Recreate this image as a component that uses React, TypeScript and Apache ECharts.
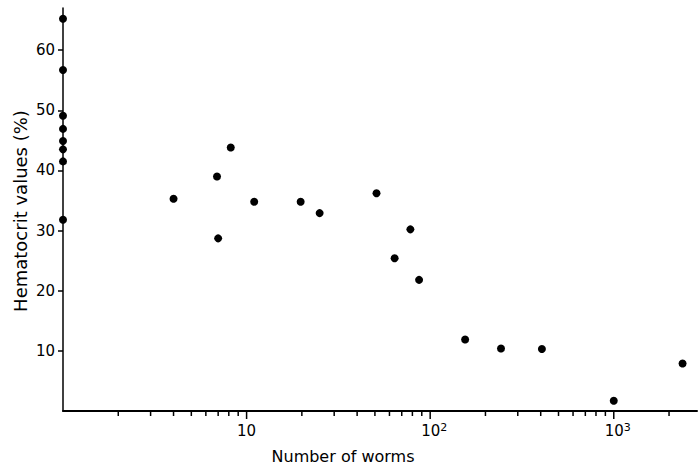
import React, { useEffect, useRef } from "react";
import * as echarts from "echarts";

// Worms on the left axis (x = 1, i.e. no worms counted)
const axisWormCounts = [1, 1, 1, 1, 1, 1, 1, 1];
const axisHematocrit = [65.2, 56.7, 49.1, 46.9, 44.9, 43.5, 41.5, 31.8];

// Infected animals
const wormCounts = [4, 6.9, 7, 8.2, 11, 19.7, 25, 51, 64, 78, 87, 155, 243, 406, 1000, 2370];
const hematocrit = [35.3, 39.0, 28.7, 43.8, 34.8, 34.8, 32.9, 36.2, 25.4, 30.2, 21.8, 11.9, 10.4, 10.3, 1.7, 7.9];

// Axis tick values
const xMajorTicks = [10, 100, 1000];
const xMinorTicks = [2, 3, 4, 5, 6, 7, 8, 9, 20, 30, 40, 50, 60, 70, 80, 90, 200, 300, 400, 500, 600, 700, 800, 900, 2000];
const yTicks = [10, 20, 30, 40, 50, 60];

const FONT = "DejaVu Sans";

export default function App() {
  const ref = useRef<HTMLDivElement>(null);
  useEffect(() => {
    if (!ref.current) return;
    const chart = echarts.init(ref.current, null, { renderer: "svg" });

    const points = [
      ...axisWormCounts.map((x, i) => [x, axisHematocrit[i]]),
      ...wormCounts.map((x, i) => [x, hematocrit[i]]),
    ];

    const tickSeries = (vals: number[], len: number) => ({
      type: "custom",
      clip: false,
      silent: true,
      z: 5,
      data: vals.map((v) => [v, 0]),
      renderItem: (_params: any, api: any) => {
        const p = api.coord([api.value(0), 0]);
        return {
          type: "line",
          shape: { x1: p[0], y1: p[1], x2: p[0], y2: p[1] + len },
          style: { stroke: "#000", lineWidth: 1.5, opacity: 1 },
        };
      },
    });

    const supMap: Record<number, string> = {
      10: "{b|10}",
      100: "{bp|10}{s|2}",
      1000: "{bp|10}{s|3}",
    };

    chart.setOption({
      animation: false,
      backgroundColor: "#fff",
      grid: { left: 63, right: 0, top: 8, bottom: 60, containLabel: false },
      xAxis: {
        type: "log",
        logBase: 10,
        min: 1,
        max: 2840,
        axisLine: { show: true, lineStyle: { color: "#000", width: 2 } },
        axisTick: { show: false },
        splitLine: { show: false },
        minorTick: { show: false },
        axisLabel: {
          margin: 11,
          color: "#000",
          formatter: (v: number) => {
            const r = Math.round(v);
            return xMajorTicks.includes(r) ? supMap[r] : "";
          },
          rich: {
            b: { fontSize: 15, fontFamily: FONT, color: "#000", lineHeight: 18 },
            bp: { fontSize: 15, fontFamily: FONT, color: "#000", lineHeight: 18, padding: [0, 0, 0, 8] },
            s: { fontSize: 11, fontFamily: FONT, color: "#000", lineHeight: 11, verticalAlign: "top" },
          },
        },
      },
      yAxis: {
        type: "value",
        min: 0,
        max: 67,
        interval: 10,
        axisLine: { show: true, lineStyle: { color: "#000", width: 1.5 } },
        axisTick: { show: true, length: 5, customValues: yTicks, lineStyle: { color: "#000", width: 1.5 } },
        splitLine: { show: false },
        axisLabel: {
          customValues: yTicks,
          margin: 8,
          color: "#000",
          fontSize: 15,
          fontFamily: FONT,
          formatter: (v: number) => (yTicks.includes(v) ? String(v) : ""),
        },
      },
      graphic: [
        {
          type: "text",
          x: 343,
          y: 456,
          style: {
            text: "Number of worms",
            fontSize: 16,
            fontFamily: FONT,
            fill: "#000",
            align: "center",
            verticalAlign: "middle",
            textAlign: "center",
            textVerticalAlign: "middle",
          },
        },
        {
          type: "text",
          x: 20,
          y: 211,
          rotation: Math.PI / 2,
          style: {
            text: "Hematocrit values (%)",
            fontSize: 18,
            fontFamily: FONT,
            fill: "#000",
            align: "center",
            verticalAlign: "middle",
            textAlign: "center",
            textVerticalAlign: "middle",
          },
        },
      ],
      series: [
        {
          type: "scatter",
          data: points,
          symbol: "circle",
          symbolSize: 8,
          clip: false,
          itemStyle: { color: "#000", opacity: 1 },
        },
        tickSeries(xMajorTicks, 8),
        tickSeries(xMinorTicks, 5),
      ],
    });
    return () => chart.dispose();
  }, []);
  return (
    <div
      ref={ref}
      style={{ position: "fixed", left: 0, top: 0, width: 700, height: 471, background: "#fff" }}
    />
  );
}
